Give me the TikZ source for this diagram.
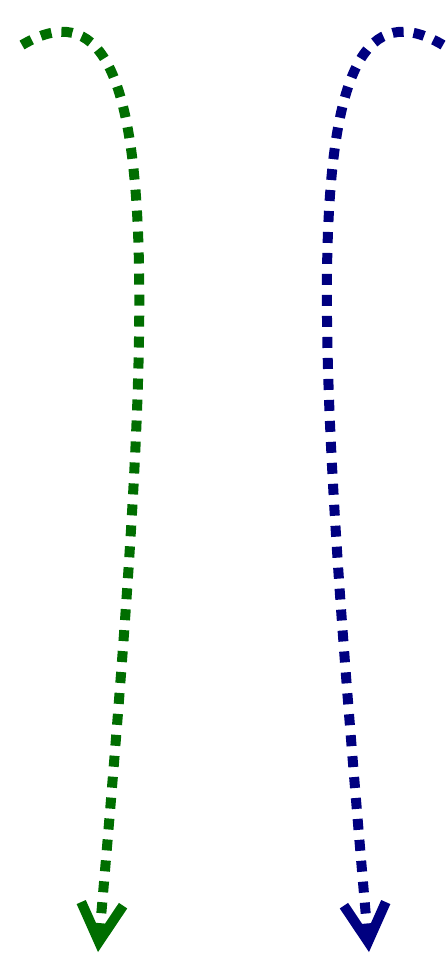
\documentclass[tikz,border=0pt]{standalone}
\usepackage{tikz}
\usetikzlibrary{arrows.meta}
\definecolor{flowGreen}{RGB}{0, 110, 0}
\definecolor{flowBlue}{RGB}{0, 0, 128}

\begin{document}
\begin{tikzpicture}[
    x=1pt, y=-1pt,
    flow/.style={line width=10pt, dash pattern=on 11pt off 10pt,
                 -{Straight Barb[length=38pt, width=42pt]}}
  ]
    \useasboundingbox (0,0) rectangle (446,953);
    \coordinate (GS) at (22,45);
    \coordinate (GE) at (98,952);
    \coordinate (BS) at (443,45);
    \coordinate (BE) at (369,952);
    \draw[flow, flowGreen] (GS) .. controls (178,-47) and (150,350) .. (GE);
    \draw[flow, flowBlue] (BS) .. controls (287,-47) and (317,350) .. (BE);
  \end{tikzpicture}
\end{document}
